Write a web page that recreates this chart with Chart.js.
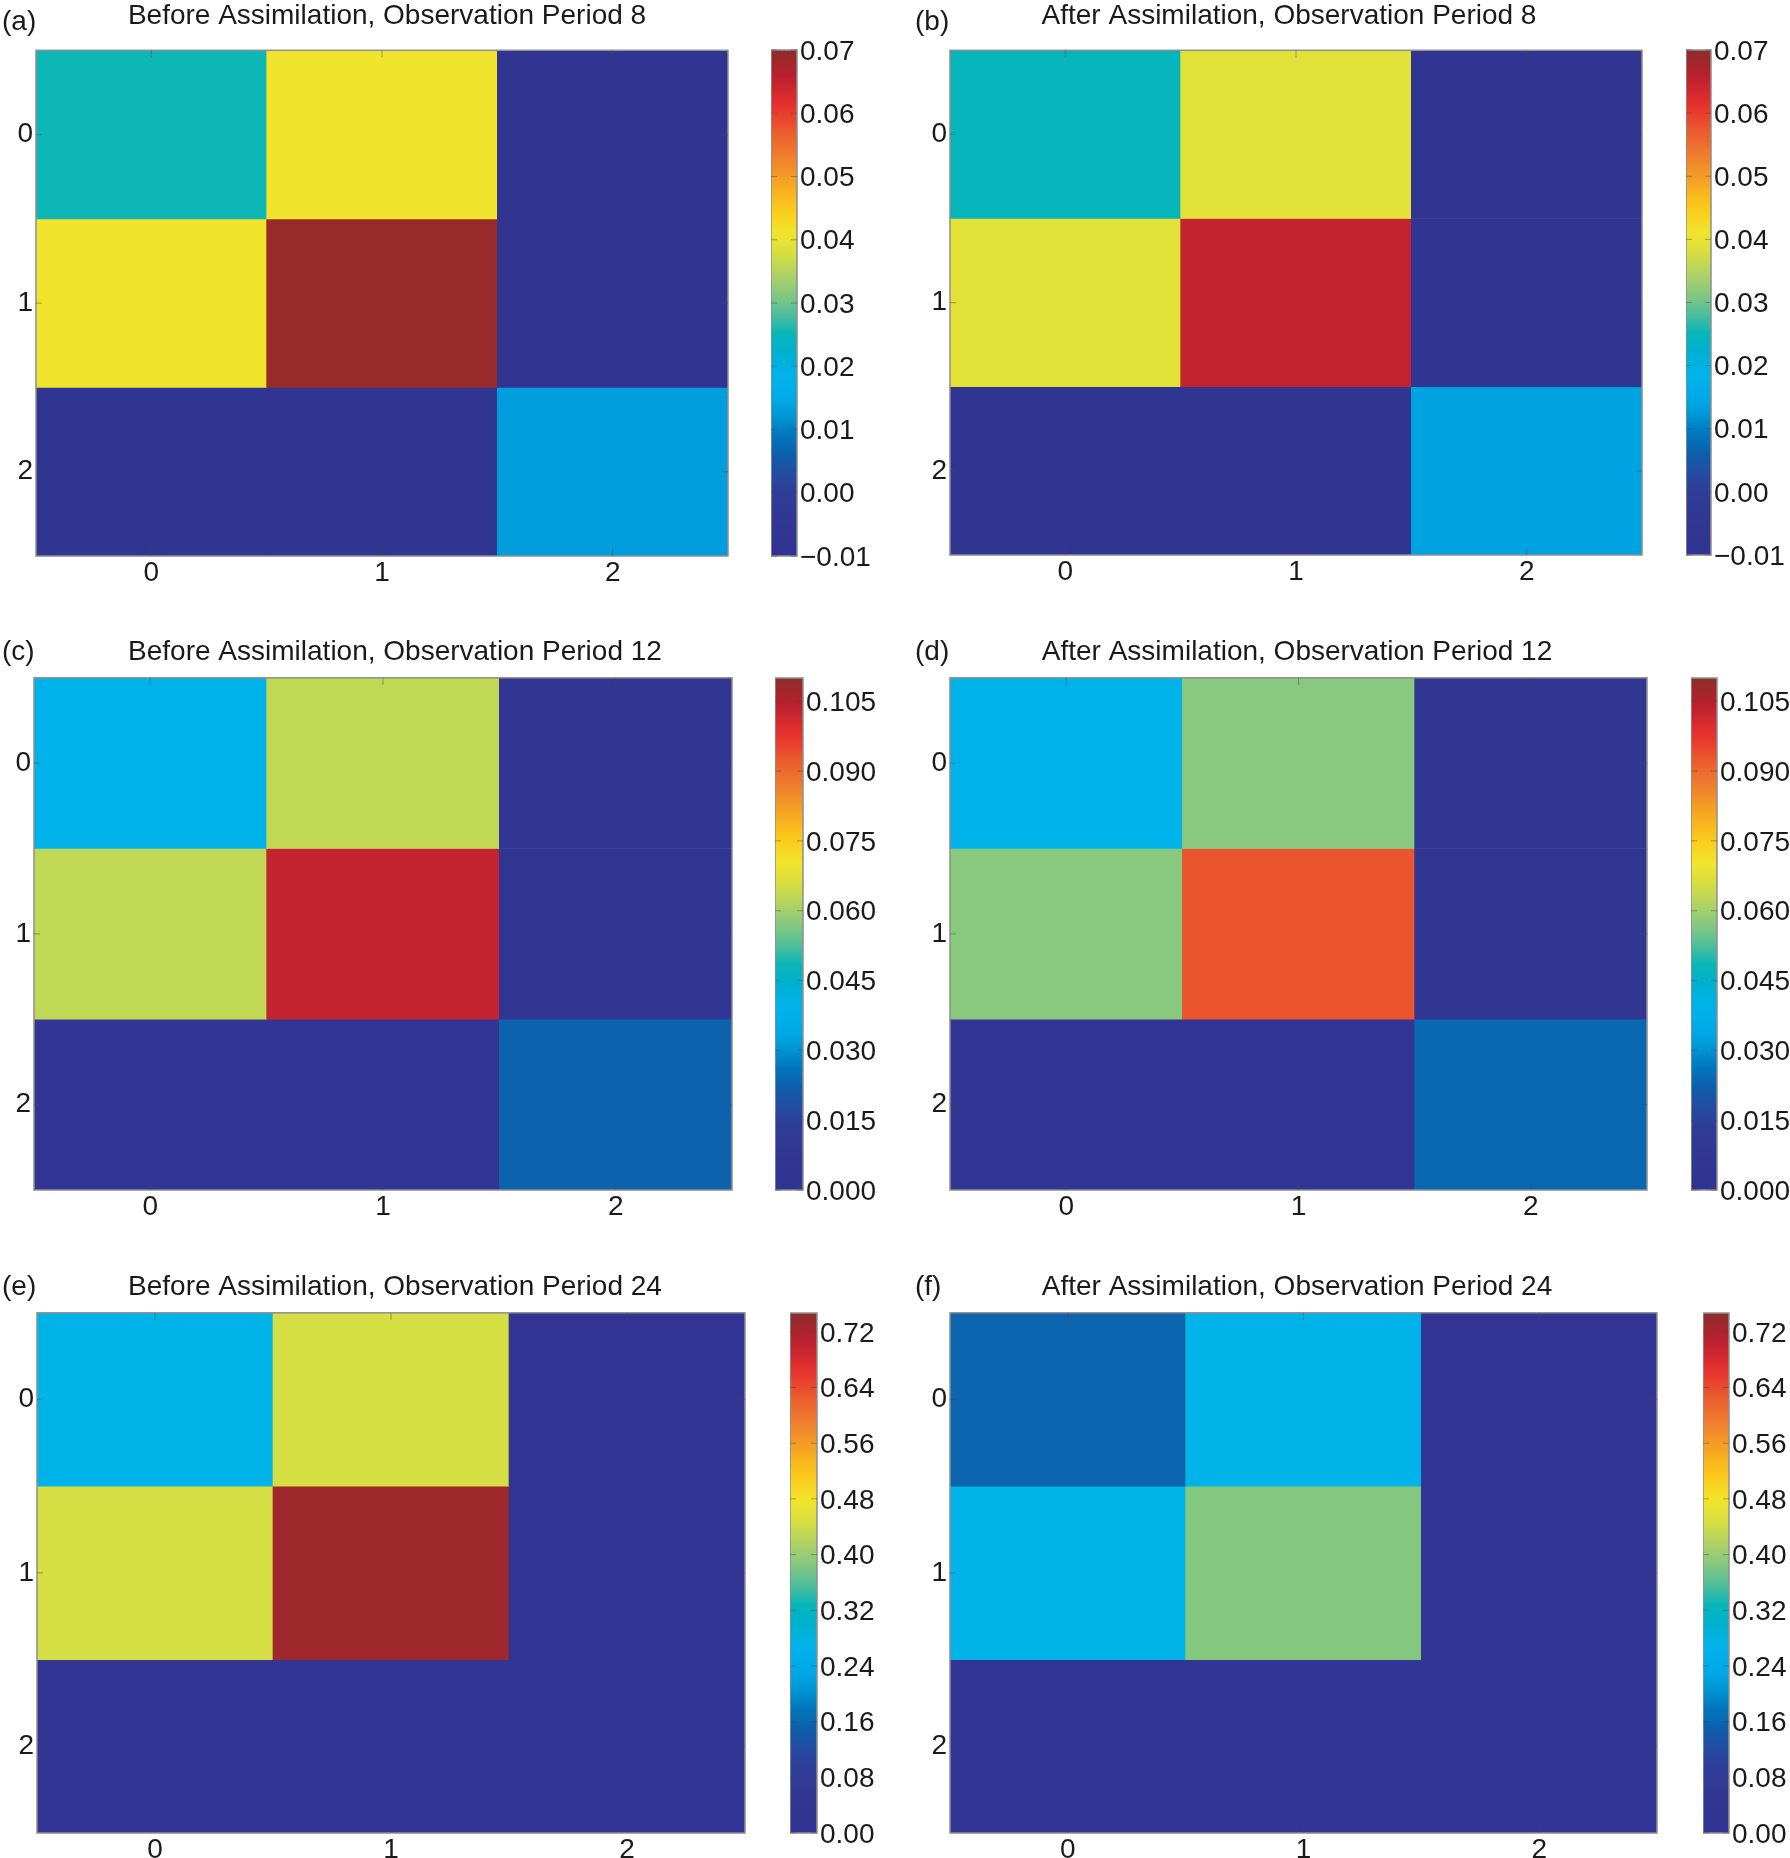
<!DOCTYPE html>
<html lang="en">
<head>
<meta charset="UTF-8">
<title>Before / After Assimilation</title>
<script src="https://cdn.jsdelivr.net/npm/chart.js"></script>
<style>
  body { margin: 0; background: #fff; }
  #page { position: relative; width: 1790px; height: 1858px; overflow: hidden;
          font-family: "Liberation Sans", Arial, sans-serif; }
  #page canvas { position: absolute; }
  .tag { position: absolute; font-size: 28px; line-height: 34px; color: #1a1a1a; }
</style>
</head>
<body>
<div id="page"></div>
<script>
// ---- data ----
var rowLabels = ['0', '1', '2'];
var colLabels = ['0', '1', '2'];
var panelTags = ['(a)', '(b)', '(c)', '(d)', '(e)', '(f)'];
var panelTitles = [
  'Before Assimilation, Observation Period 8',
  'After Assimilation, Observation Period 8',
  'Before Assimilation, Observation Period 12',
  'After Assimilation, Observation Period 12',
  'Before Assimilation, Observation Period 24',
  'After Assimilation, Observation Period 24'
];

// cell values, rows top to bottom
var beforeP8  = [[0.0254, 0.0410, -0.0065], [0.0410, 0.0688, -0.0065], [-0.0068, -0.0068, 0.0132]];
var afterP8   = [[0.0246, 0.0392, -0.0065], [0.0392, 0.0648, -0.0065], [-0.0068, -0.0068, 0.0140]];
var beforeP12 = [[0.0390, 0.0633, 0.0055], [0.0633, 0.1029, 0.0055], [0.0052, 0.0052, 0.0226]];
var afterP12  = [[0.0390, 0.0572, 0.0055], [0.0572, 0.0930, 0.0055], [0.0052, 0.0052, 0.0237]];
var beforeP24 = [[0.270, 0.446, 0.036], [0.446, 0.731, 0.036], [0.034, 0.036, 0.035]];
var afterP24  = [[0.154, 0.270, 0.035], [0.270, 0.386, 0.035], [0.034, 0.034, 0.034]];

// colour bar ranges and ticks
var rangeP8  = [-0.01, 0.07];
var rangeP12 = [0, 0.11];
var rangeP24 = [0, 0.747];
var ticksP8  = [-0.01, 0.00, 0.01, 0.02, 0.03, 0.04, 0.05, 0.06, 0.07];
var ticksP12 = [0.000, 0.015, 0.030, 0.045, 0.060, 0.075, 0.090, 0.105];
var ticksP24 = [0.00, 0.08, 0.16, 0.24, 0.32, 0.40, 0.48, 0.56, 0.64, 0.72];

// ---- colour map ----
var cmapPos = [0, 0.06, 0.125, 0.16, 0.20, 0.24, 0.275, 0.31, 0.36, 0.40, 0.44, 0.475,
               0.51, 0.56, 0.60, 0.64, 0.69, 0.74, 0.79, 0.84, 0.89, 0.95, 1];
var cmapHex = ['#303391', '#323693', '#2f3d97', '#244ba0', '#0e5fab', '#0077bd', '#0095d4',
               '#00a9e6', '#00b3ea', '#00b0d0', '#08b6b7', '#4cbd9b', '#7dc685', '#b3d362',
               '#d8df3f', '#f2e42c', '#fbc81b', '#f5a323', '#ef7e2e', '#ea5a2e', '#e8302e',
               '#b8202f', '#8b2e2a'];

function hexRgb(h) {
  return [parseInt(h.substr(1, 2), 16), parseInt(h.substr(3, 2), 16), parseInt(h.substr(5, 2), 16)];
}

function colorFor(v, range) {
  var t = (v - range[0]) / (range[1] - range[0]);
  t = Math.max(0, Math.min(1, t));
  for (var i = 1; i < cmapPos.length; i++) {
    if (t <= cmapPos[i]) {
      var f = (t - cmapPos[i - 1]) / (cmapPos[i] - cmapPos[i - 1]);
      var a = hexRgb(cmapHex[i - 1]), b = hexRgb(cmapHex[i]);
      return 'rgb(' + a.map(function (c, k) { return Math.round(c + (b[k] - c) * f); }).join(',') + ')';
    }
  }
  return cmapHex[cmapHex.length - 1];
}

// ---- layout (px) ----
var plotBoxes = [[36, 50, 692, 506], [950, 50, 692, 505],
                 [34, 678, 698, 512], [950, 678, 697, 512],
                 [37, 1313, 708, 520], [950, 1313, 707, 520]];
var cbBoxes = [[771, 50, 26, 506], [1686, 50, 25, 505],
               [775, 678, 28, 512], [1691, 678, 26, 512],
               [790, 1313, 27, 520], [1703, 1313, 26, 520]];
var titleCenter = [387, 1289, 395, 1297, 395, 1297];
var titleMid = [15.5, 652, 1287];
var tagMid = [21, 651, 1286];
var tagLeft = [2, 915];

var FONT = '"Liberation Sans", Arial, sans-serif';
var INK = '#1a1a1a';
var page = document.getElementById('page');

function addCanvas(x, y, w, h) {
  var c = document.createElement('canvas');
  c.width = Math.round(w);
  c.height = Math.round(h);
  c.style.left = Math.round(x) + 'px';
  c.style.top = Math.round(y) + 'px';
  page.appendChild(c);
  return c;
}

var framePlugin = {
  id: 'frame',
  afterDatasetsDraw: function (chart) {
    var a = chart.chartArea, c = chart.ctx;
    c.save();
    c.strokeStyle = '#8f8f8f';
    c.lineWidth = 1.5;
    c.strokeRect(a.left, a.top, a.right - a.left, a.bottom - a.top);
    // short inward tick marks
    c.strokeStyle = 'rgba(70,70,70,0.45)';
    c.lineWidth = 1;
    var sx = chart.scales.x, sy = chart.scales.y;
    if (sx && sx.options.display !== false) {
      sx.ticks.forEach(function (t, i) {
        var px = sx.getPixelForTick(i);
        c.beginPath();
        c.moveTo(px, a.top); c.lineTo(px, a.top + 7);
        c.moveTo(px, a.bottom); c.lineTo(px, a.bottom - 7);
        c.stroke();
      });
    }
    sy.ticks.forEach(function (t) {
      var py = sy.getPixelForValue(t.value);
      c.beginPath();
      c.moveTo(a.left, py); c.lineTo(a.left + 6, py);
      c.moveTo(a.right, py); c.lineTo(a.right - 6, py);
      c.stroke();
    });
    c.restore();
  }
};

function heatmap(i, values, range) {
  var box = plotBoxes[i];
  var row = Math.floor(i / 2);
  var axisW = 36, axisH = 44;
  var left = box[0] - axisW;
  // right-side spacer so the title box is centred where the original has it
  var spacer = Math.max(0, 2 * (titleCenter[i] - left) - axisW - box[2]);
  var top = titleMid[row] - 16.8;
  var titleH = box[1] - top;
  var canvas = addCanvas(left, top, axisW + box[2] + spacer, titleH + box[3] + axisH);

  var datasets = rowLabels.map(function (r, ri) {
    return {
      label: 'row ' + r,
      data: colLabels.map(function () { return [ri - 0.5, ri + 0.5]; }),
      backgroundColor: values[ri].map(function (v) { return colorFor(v, range); }),
      borderWidth: 0,
      barPercentage: 1,
      categoryPercentage: 1,
      grouped: false
    };
  });

  new Chart(canvas, {
    type: 'bar',
    data: { labels: colLabels, datasets: datasets },
    options: {
      responsive: false,
      animation: false,
      layout: { padding: 0 },
      plugins: {
        legend: { display: false },
        tooltip: { enabled: false },
        title: {
          display: true,
          text: panelTitles[i],
          color: INK,
          font: { family: FONT, size: 28, weight: 'normal', lineHeight: 1.2 },
          padding: { top: 0, bottom: titleH - 33.6 }
        }
      },
      scales: {
        x: {
          grid: { display: false, drawTicks: false, tickLength: 0 },
          border: { display: false },
          ticks: { color: INK, font: { family: FONT, size: 28 }, padding: 0 },
          afterFit: function (s) { s.height = axisH; }
        },
        y: {
          min: -0.5,
          max: 2.5,
          reverse: true,
          grid: { display: false, drawTicks: false, tickLength: 0 },
          border: { display: false },
          afterBuildTicks: function (s) {
            s.ticks = rowLabels.map(function (r, k) { return { value: k }; });
          },
          ticks: {
            color: INK,
            font: { family: FONT, size: 28 },
            padding: 3,
            callback: function (v) { return rowLabels[v]; }
          },
          afterFit: function (s) { s.width = axisW; }
        },
        yr: {
          position: 'right',
          grid: { display: false, drawTicks: false, tickLength: 0 },
          border: { display: false },
          ticks: { display: false },
          afterFit: function (s) { s.width = spacer; }
        }
      }
    },
    plugins: [framePlugin]
  });

  var tag = document.createElement('div');
  tag.className = 'tag';
  tag.textContent = panelTags[i];
  tag.style.left = tagLeft[i % 2] + 'px';
  tag.style.top = (tagMid[row] - 17) + 'px';
  page.appendChild(tag);
}

function fmtTick(v, dec) {
  var s = Math.abs(v).toFixed(dec);
  return v < -1e-9 ? '\u2212' + s : s;
}

function colorbar(i, range, ticks, dec) {
  var box = cbBoxes[i];
  var axisW = 96, pad = 20;
  var canvas = addCanvas(box[0], box[1] - pad, box[2] + axisW, box[3] + 2 * pad);

  new Chart(canvas, {
    type: 'bar',
    data: {
      labels: [''],
      datasets: [{
        data: [[range[0], range[1]]],
        backgroundColor: function (ctx) {
          var ch = ctx.chart, a = ch.chartArea;
          if (!a) return cmapHex[0];
          var g = ch.ctx.createLinearGradient(0, a.bottom, 0, a.top);
          cmapPos.forEach(function (p, k) { g.addColorStop(p, cmapHex[k]); });
          return g;
        },
        borderWidth: 0,
        barPercentage: 1,
        categoryPercentage: 1
      }]
    },
    options: {
      responsive: false,
      animation: false,
      layout: { padding: { left: 0, right: 0, top: pad, bottom: pad } },
      plugins: { legend: { display: false }, tooltip: { enabled: false } },
      scales: {
        x: { display: false },
        y: {
          position: 'right',
          min: range[0],
          max: range[1],
          grid: { display: false, drawTicks: false, tickLength: 0 },
          border: { display: false },
          afterBuildTicks: function (s) {
            s.ticks = ticks.map(function (v) { return { value: v }; });
          },
          ticks: {
            color: INK,
            font: { family: FONT, size: 28 },
            padding: 3,
            labelOffset: 2,
            callback: function (v) { return fmtTick(v, dec); }
          },
          afterFit: function (s) { s.width = axisW; }
        }
      }
    },
    plugins: [framePlugin]
  });
}

heatmap(0, beforeP8, rangeP8);   colorbar(0, rangeP8, ticksP8, 2);
heatmap(1, afterP8, rangeP8);    colorbar(1, rangeP8, ticksP8, 2);
heatmap(2, beforeP12, rangeP12); colorbar(2, rangeP12, ticksP12, 3);
heatmap(3, afterP12, rangeP12);  colorbar(3, rangeP12, ticksP12, 3);
heatmap(4, beforeP24, rangeP24); colorbar(4, rangeP24, ticksP24, 2);
heatmap(5, afterP24, rangeP24);  colorbar(5, rangeP24, ticksP24, 2);
</script>
</body>
</html>
